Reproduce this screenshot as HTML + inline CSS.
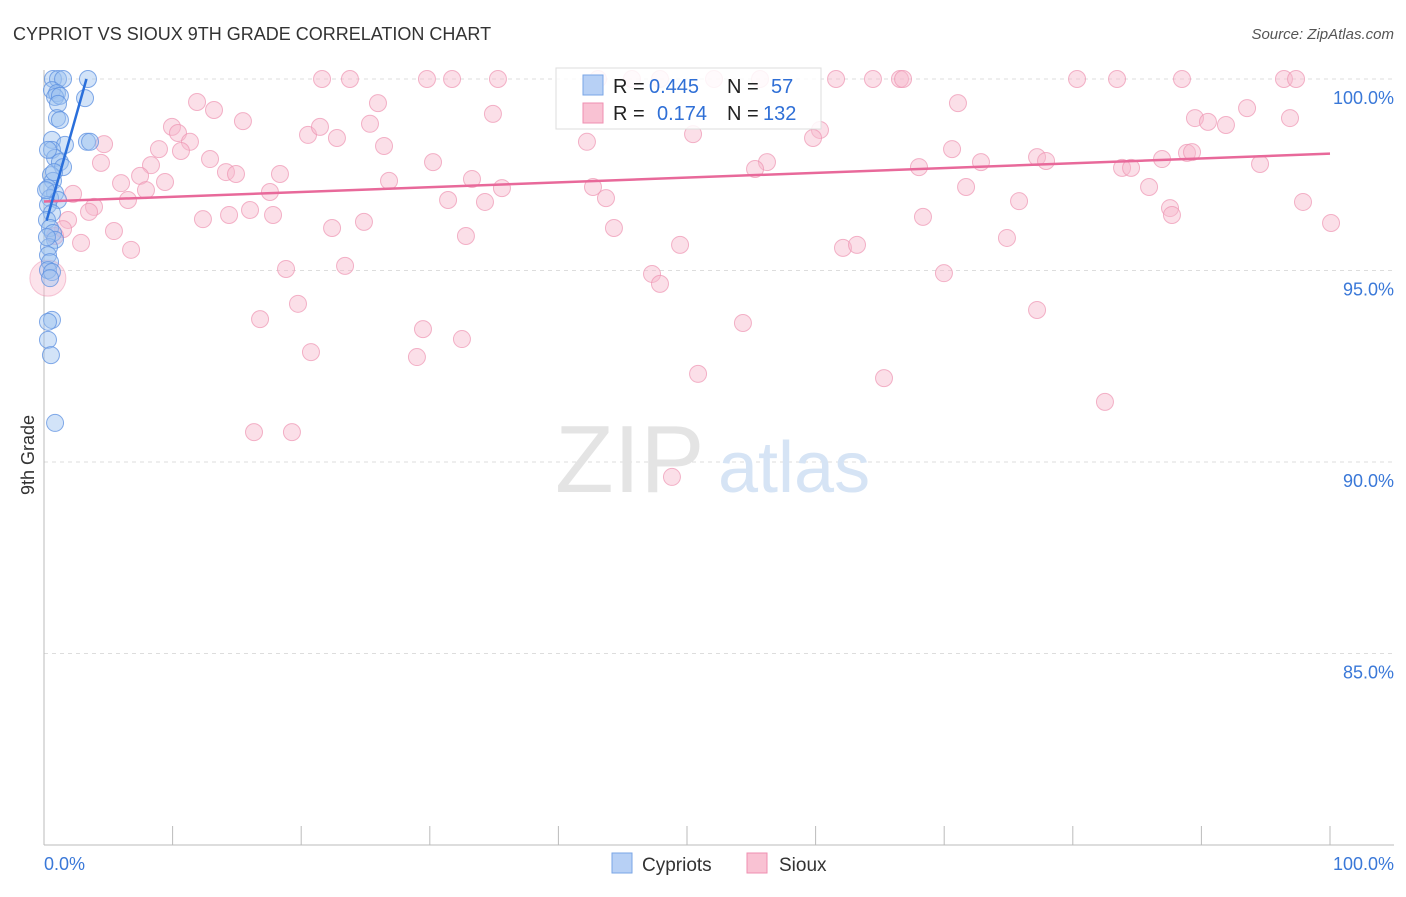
<!DOCTYPE html><html><head><meta charset="utf-8"><style>
body{margin:0;background:#fff;font-family:"Liberation Sans",sans-serif}
svg text{font-family:"Liberation Sans",sans-serif}
</style></head><body>
<svg width="1406" height="892">
<text x="13" y="40" font-size="18" fill="#333">CYPRIOT VS SIOUX 9TH GRADE CORRELATION CHART</text>
<text x="1394" y="39" font-size="15" fill="#555" font-style="italic" text-anchor="end">Source: ZipAtlas.com</text>
<g id="grid"></g>
<text x="555" y="492" font-size="96" fill="#e4e4e4" font-family="Liberation Serif">ZIP</text>
<text x="718" y="492" font-size="72" fill="#d6e4f5">atlas</text>
<text x="34" y="455" font-size="18" fill="#333" transform="rotate(-90 34 455)" text-anchor="middle">9th Grade</text>
<g id="pts"></g>
<g id="lines"></g>
<rect x="556" y="68" width="265" height="61" fill="#fff" fill-opacity="0.85" stroke="#ddd"/>
<rect x="583" y="75" width="20" height="20" fill="#b7d0f5" stroke="#7aa6e6"/>
<rect x="583" y="103" width="20" height="20" fill="#f9c2d3" stroke="#ef8fb0"/>
<text font-size="20" fill="#222"><tspan x="613" y="93">R = </tspan><tspan fill="#2f6fd6" x="649">0.445</tspan><tspan x="727">N = </tspan><tspan fill="#2f6fd6" x="771">57</tspan></text>
<text font-size="20" fill="#222"><tspan x="613" y="120">R = </tspan><tspan fill="#2f6fd6" x="657">0.174</tspan><tspan x="727">N = </tspan><tspan fill="#2f6fd6" x="763">132</tspan></text>
<text x="44" y="870" font-size="18" fill="#3a78d8">0.0%</text>
<text x="1394" y="870" font-size="18" fill="#3a78d8" text-anchor="end">100.0%</text>
<rect x="612" y="853" width="20" height="20" fill="#b7d0f5" stroke="#7aa6e6"/>
<text x="642" y="871" font-size="19" fill="#333">Cypriots</text>
<rect x="747" y="853" width="20" height="20" fill="#f9c2d3" stroke="#ef8fb0"/>
<text x="779" y="871" font-size="19" fill="#333">Sioux</text>
</svg>
<script>
const yTicks=[100,95,90,85];
const yTickLabels=["100.0%","95.0%","90.0%","85.0%"];
const xTicks=[0,10,20,30,40,50,60,70,80,90,100];
const siouxPx=[[322,79],[350,79],[427,79],[452,79],[498,79],[598,79],[632,79],[660,79],[714,79],[760,79],[836,79],[873,79],[900,79],[903,79],[1077,79],[1117,79],[1182,79],[1284,79],[1296,79],[197,102],[214,110],[378,103],[493,114],[958,103],[1247,108],[1290,118],[1195,118],[1208,122],[1226,125],[243,121],[172,127],[178,133],[190,142],[104,144],[159,149],[181,151],[308,135],[320,127],[337,138],[370,124],[384,146],[587,142],[693,134],[820,130],[813,138],[952,149],[1037,157],[1046,161],[1162,159],[1187,153],[1192,152],[1260,164],[1122,168],[1131,168],[981,162],[919,167],[767,162],[755,169],[433,162],[210,159],[101,163],[151,165],[140,176],[121,183],[165,182],[226,172],[236,174],[280,174],[389,181],[472,179],[502,188],[593,187],[270,192],[146,190],[128,200],[73,194],[94,207],[89,212],[448,200],[485,202],[606,198],[1149,187],[966,187],[1019,201],[1170,208],[1172,215],[1331,223],[1303,202],[923,217],[250,210],[229,215],[273,215],[203,219],[68,220],[114,231],[332,228],[364,222],[614,228],[466,236],[1007,238],[81,243],[131,250],[680,245],[843,248],[857,245],[286,269],[345,266],[652,274],[660,284],[944,273],[298,304],[260,319],[1037,310],[423,329],[743,323],[462,339],[311,352],[417,357],[698,374],[884,378],[1105,402],[254,432],[292,432],[672,477],[63,229],[55,236]];
const cypPx=[[53,79],[58,79],[63,79],[88,79],[52,90],[57,93],[55,97],[60,96],[85,98],[58,104],[57,118],[60,120],[87,142],[90,142],[52,140],[65,145],[52,150],[55,158],[60,162],[48,150],[63,167],[51,175],[53,181],[48,188],[55,193],[50,198],[58,200],[48,205],[52,213],[47,220],[50,228],[53,233],[55,240],[49,247],[48,255],[50,262],[48,270],[52,272],[50,278],[52,320],[48,322],[48,340],[51,355],[55,423],[46,190],[54,172],[47,237]];
// convert to data units (x %, y %)
const siouxX=siouxPx.map(p=>+((p[0]-44)/12.86).toFixed(2));
const siouxY=siouxPx.map(p=>+(100-(p[1]-79)/38.3).toFixed(2));
const cypX=cypPx.map(p=>+((p[0]-44)/12.86).toFixed(2));
const cypY=cypPx.map(p=>+(100-(p[1]-79)/38.3).toFixed(2));
const siouxTrend=[[0,96.8],[100,98.05]];
const cypTrend=[[0.2,96.3],[3.3,100]];
const X=v=>44+v*12.86, Y=v=>79+(100-v)*38.3;
const NS="http://www.w3.org/2000/svg";
function mk(t,a,parent){const e=document.createElementNS(NS,t);for(const k in a)e.setAttribute(k,a[k]);document.getElementById(parent).appendChild(e);return e;}
yTicks.forEach((t,i)=>{
 const l=mk('line',{x1:44,x2:1394,y1:Y(t),y2:Y(t),stroke:'#ddd','stroke-dasharray':'4 4'},'grid');
 
 
 const tx=mk('text',{x:1394,y:Y(t)+25,'font-size':18,fill:'#3a78d8','text-anchor':'end'},'grid');
 tx.textContent=yTickLabels[i];
 
 
});
const ax=mk('line',{x1:44,x2:44,y1:70,y2:845,stroke:'#bbb'},'grid');


const bx=mk('line',{x1:44,x2:1394,y1:845,y2:845,stroke:'#bbb'},'grid');


xTicks.forEach(t=>{const l=mk('line',{x1:X(t),x2:X(t),y1:826,y2:845,stroke:'#bbb'},'grid');
 
 });
siouxX.forEach((x,i)=>{const c=mk('circle',{cx:X(x),cy:Y(siouxY[i]),r:8.5,fill:'#f7b8cc','fill-opacity':0.45,stroke:'#ee94b2','stroke-opacity':0.7},'pts');
 
 });
const big=mk('circle',{cx:X(0.3),cy:Y(94.8),r:18,fill:'#f7b8cc','fill-opacity':0.4,stroke:'#ee94b2','stroke-opacity':0.5},'pts');


cypX.forEach((x,i)=>{const c=mk('circle',{cx:X(x),cy:Y(cypY[i]),r:8.5,fill:'#9cc0f0','fill-opacity':0.45,stroke:'#5b8fe0','stroke-opacity':0.75},'pts');
 
 });
const sl=mk('line',{x1:X(siouxTrend[0][0]),y1:Y(siouxTrend[0][1]),x2:X(siouxTrend[1][0]),y2:Y(siouxTrend[1][1]),stroke:'#e8699a','stroke-width':2.5},'lines');


const cl=mk('line',{x1:X(cypTrend[0][0]),y1:Y(cypTrend[0][1]),x2:X(cypTrend[1][0]),y2:Y(cypTrend[1][1]),stroke:'#2a6fdb','stroke-width':2.5},'lines');


</script></body></html>
